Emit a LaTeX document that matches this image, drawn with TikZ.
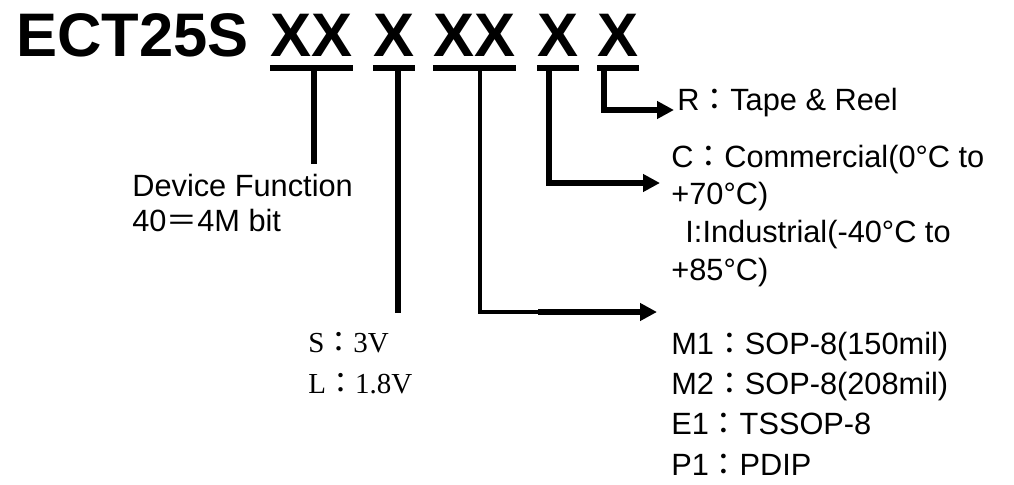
\documentclass[tikz,border=0pt]{standalone}
\usepackage{fontspec}
\setmainfont{Liberation Sans}
\newfontfamily\serifopt{Liberation Serif}
\newfontfamily\cjk{Noto Sans CJK TC}
\usetikzlibrary{arrows.meta, calc, positioning}

\begin{document}
\begin{tikzpicture}[
  every node/.style={inner sep=0pt, text=black},
  partno/.style={font=\fontsize{35}{42}\selectfont\bfseries, anchor=base west},
  uline/.style={line width=0.12cm},
  stem/.style={line width=0.11cm},
  thinstem/.style={line width=0.07cm},
  flow/.style={-{Triangle[length=0.34cm, width=0.34cm]}, line width=0.11cm},
  option/.style={font=\fontsize{17.5}{22.8}\selectfont, align=left, anchor=base west},
  optserif/.style={font=\serifopt\fontsize{16.5}{22.8}\selectfont, align=left, anchor=base west}
]
\useasboundingbox (0,0) rectangle (20.28,-9.70);

% part number
\node[partno] (ect) at (0.32,-1.14) {ECT25S};
\node[partno] (fnX) at (5.40,-1.14) {XX};
\node[partno] (vccX) at (7.46,-1.14) {X};
\node[partno] (pkgX) at (8.66,-1.14) {XX};
\node[partno] (tempX) at (10.74,-1.14) {X};
\node[partno] (reelX) at (11.94,-1.14) {X};

% underlines
\foreach \grp in {fnX, vccX, pkgX, tempX, reelX}
  \draw[uline] ([yshift=-0.22cm]\grp.base west) -- ([yshift=-0.22cm]\grp.base east);

% option texts (base = last line)
\node[option, font=\fontsize{17.5}{19.4}\selectfont] (fntext) at (2.64,-4.62)
  {Device Function\\40{\cjk ＝}4M bit};
\node[optserif] (vcctext) at (6.16,-7.86)
  {S{\cjk ：}3V\\L{\cjk ：}1.8V};
\node[option] (pkgtext) at (13.42,-9.50)
  {M1{\cjk ：}SOP-8(150mil)\\M2{\cjk ：}SOP-8(208mil)\\E1{\cjk ：}TSSOP-8\\P1{\cjk ：}PDIP};
\node[option, font=\fontsize{17.5}{21.4}\selectfont] (temptext) at (13.42,-5.60)
  {C{\cjk ：}Commercial(0°C to\\+70°C)\\\hspace{8pt}I:Industrial(-40°C to\\+85°C)};
\node[option] (reeltext) at (13.54,-2.20) {R{\cjk ：}Tape \& Reel};

% stem tops under the underlines
\coordinate (fn-top) at (6.28,-1.38);
\coordinate (vcc-top) at (7.96,-1.38);
\coordinate (pkg-top) at (9.60,-1.38);
\coordinate (temp-top) at (10.98,-1.38);
\coordinate (reel-top) at (12.08,-1.38);
\coordinate (vcc-end) at (7.96,-6.26);
\coordinate (pkg-knee) at (10.76,-6.24);

% connectors
\draw[stem, shorten >=0.2cm] (fn-top) -- (fn-top |- fntext.north);
\draw[stem] (vcc-top) -- (vcc-end);
\draw[thinstem] (pkg-top) |- (pkg-knee);
\draw[flow, line width=0.12cm] (pkg-knee) -- ([shift={(-0.28,3.26)}]pkgtext.base west);
\draw[flow] (temp-top) |- ([shift={(-0.22,1.94)}]temptext.base west);
\draw[flow] (reel-top) |- ([xshift=-0.06cm]reeltext.base west);

\end{tikzpicture}
\end{document}
